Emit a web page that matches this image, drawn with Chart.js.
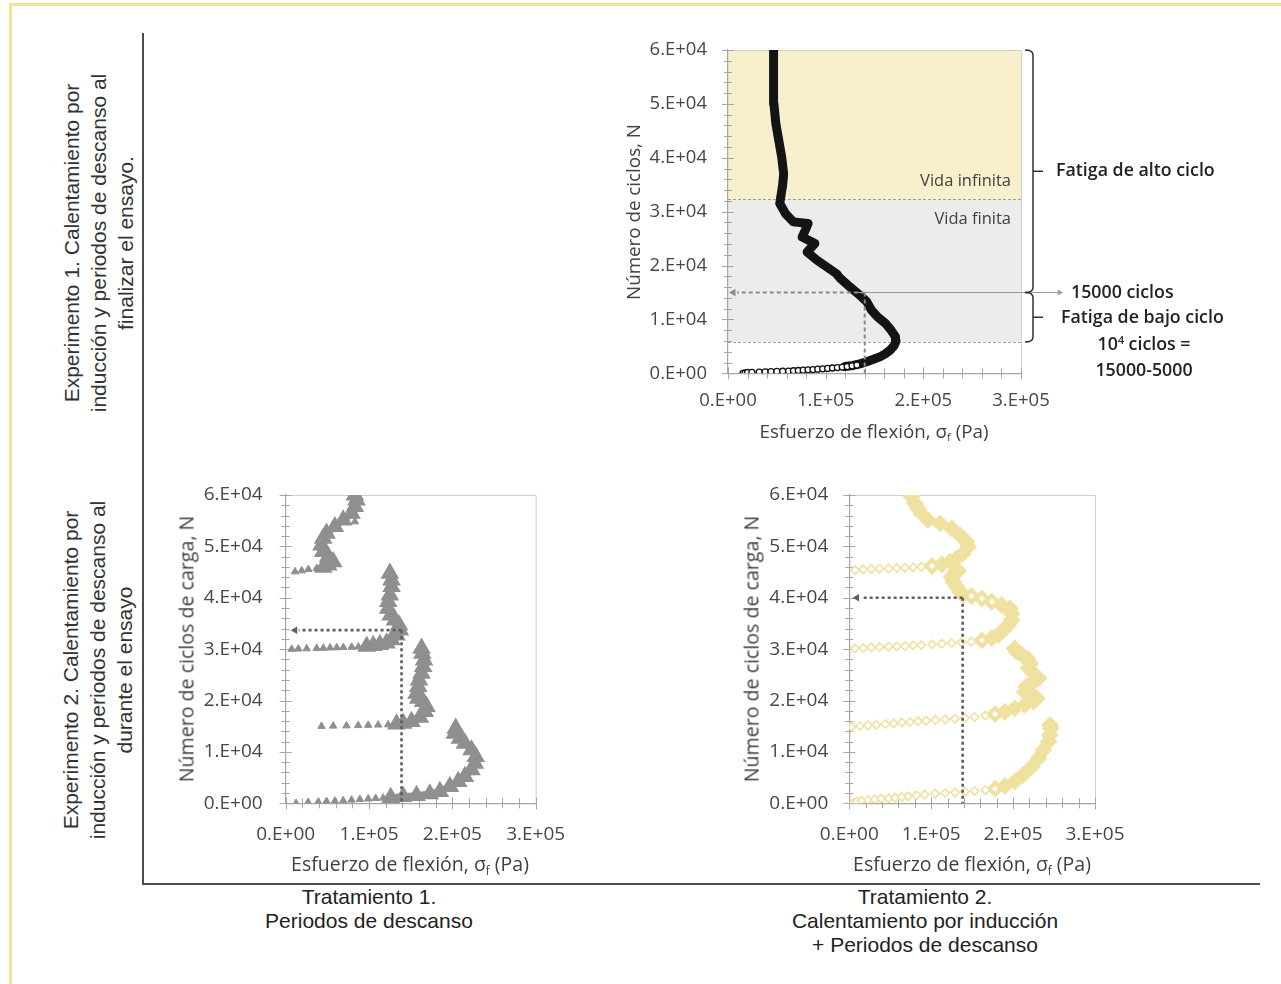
<!DOCTYPE html>
<html lang="es">
<head>
<meta charset="utf-8">
<title>Fatiga - Esfuerzo de flexión vs número de ciclos</title>
<script src="https://cdn.jsdelivr.net/npm/chart.js@4.4.1/dist/chart.umd.min.js"></script>
<style>
  html, body { margin: 0; padding: 0; background: #fff; }
  #page { position: relative; width: 1281px; height: 984px; overflow: hidden; background: #fff; }
  .abs { position: absolute; white-space: nowrap; }
  .rot { position: absolute; white-space: nowrap; transform: translate(-50%, -50%) rotate(-90deg); }
  .ctr { position: absolute; white-space: nowrap; transform: translate(-50%, -50%); }
  .axt { font-family: "Open Sans", sans-serif; color: #404040; }
  .cap { font-family: "Liberation Sans", Arial, sans-serif; color: #222; font-size: 21px; line-height: 24px; text-align: center; }
  .exp { font-family: "Liberation Sans", Arial, sans-serif; color: #333; font-size: 21px; line-height: 27px; text-align: center; }
  .ann { font-family: "Open Sans", sans-serif; color: #222; font-weight: 600; font-size: 17.8px; }
  canvas { position: absolute; }
  sub { font-size: 0.6em; vertical-align: -0.35em; }
  sup { font-size: 0.6em; vertical-align: 0.6em; line-height: 0; }
</style>
</head>
<body>
<div id="page">
  <!-- page frame -->
  <div class="abs" style="left:9px;top:3px;width:1272px;height:3px;background:#f4e295;"></div>
  <div class="abs" style="left:9px;top:3px;width:3px;height:981px;background:#f4e295;"></div>
  <div class="abs" style="left:142px;top:33px;width:1.5px;height:852px;background:#4d4d4d;"></div>
  <div class="abs" style="left:142px;top:883px;width:1118px;height:1.5px;background:#4d4d4d;"></div>

  <!-- row labels -->
  <div class="rot exp" style="left:98px;top:243px;">Experimento 1. Calentamiento por<br>inducción y periodos de descanso al<br>finalizar el ensayo.</div>
  <div class="rot exp" style="left:97px;top:670px;">Experimento 2. Calentamiento por<br>inducción y periodos de descanso al<br>durante el ensayo</div>

  <!-- column captions -->
  <div class="abs cap" style="left:219px;width:300px;top:885px;">Tratamiento 1.<br>Periodos de descanso</div>
  <div class="abs cap" style="left:775px;width:300px;top:885px;">Tratamiento 2.<br>Calentamiento por inducción<br>+ Periodos de descanso</div>

  <canvas id="c1" width="640" height="430" style="left:620px;top:30px;"></canvas>
  <canvas id="c2" width="390" height="385" style="left:186px;top:470px;"></canvas>
  <canvas id="c3" width="390" height="385" style="left:749px;top:470px;"></canvas>

  <!-- axis titles -->
  <div class="rot axt" style="left:633px;top:212px;font-size:18.8px;">Número de ciclos, N</div>
  <div class="ctr axt" style="left:874px;top:431px;font-size:18.8px;">Esfuerzo de flexión, σ<sub>f</sub> (Pa)</div>
  <div class="rot axt" style="left:186px;top:649px;font-size:19.6px;">Número de ciclos de carga, N</div>
  <div class="ctr axt" style="left:410px;top:864px;font-size:19.5px;">Esfuerzo de flexión, σ<sub>f</sub> (Pa)</div>
  <div class="rot axt" style="left:751px;top:649px;font-size:19.6px;">Número de ciclos de carga, N</div>
  <div class="ctr axt" style="left:972px;top:864px;font-size:19.5px;">Esfuerzo de flexión, σ<sub>f</sub> (Pa)</div>

  <!-- top chart annotations -->
  <div class="abs axt" style="right:270px;top:168px;font-size:16.5px;">Vida infinita</div>
  <div class="abs axt" style="right:270px;top:206px;font-size:16.5px;">Vida finita</div>
  <div class="abs ann" style="left:1056px;top:157px;">Fatiga de alto ciclo</div>
  <div class="abs ann" style="left:1071px;top:279px;">15000 ciclos</div>
  <div class="abs ann" style="left:1061px;top:304px;">Fatiga de bajo ciclo</div>
  <div class="ctr ann" style="left:1144px;top:343px;">10<sup>4</sup> ciclos =</div>
  <div class="ctr ann" style="left:1144px;top:369px;">15000-5000</div>
</div>

<script>
// ---------------- tick labels ----------------
const X_TICK_LABELS = ['0.E+00', '1.E+05', '2.E+05', '3.E+05'];
const Y_TICK_LABELS = ['0.E+00', '1.E+04', '2.E+04', '3.E+04', '4.E+04', '5.E+04', '6.E+04'];

// ---------------- Experimento 1 (black circles) : [esfuerzo Pa, ciclos] ----------------
const exp1Sparse = [[15300,0],[17500,60],[20000,120],[24500,180],[32000,220],[38000,260],[44000,300],[50000,340],[56000,380],[62000,420],
  [67000,470],[72000,520],[77000,580],[82000,640],[87000,700],[92000,760],[97000,830],[102000,900],[107000,980],[112000,1060],
  [117000,1150],[122000,1250],[127000,1380],[132000,1520]];
const exp1Dense = [[120000,1250],[128000,1450],[135000,1750],[142000,2150],[149000,2600],[156000,3100],[161000,3600],[166000,4300],
  [170000,5100],[172000,6000],[171500,6800],[167000,8000],[161000,9300],[153000,10500],[147000,11700],[142000,13300],[135000,14500],[125000,16000],[115000,17600],
  [111000,18500],[101000,19750],[91000,21000],[81000,22500],[89000,24100],[76000,25300],[79000,26500],[82000,27800],[67000,28100],[59000,29600],
  [53000,31500],[54000,32700],[56000,35000],[57000,37000],[55000,40100],[52000,43200],[49000,46300],[47000,50000],[47000,54300],[46500,57500],[46500,60000]];
// Límites de zonas y líneas de referencia (Experimento 1)
const EXP1_INFINITE_FROM = 32300;   // vida infinita (arriba)
const EXP1_FINITE_FROM = 5800;      // vida finita (desde)
const EXP1_REF = [140000, 15000];   // 15000 ciclos

// ---------------- Tratamiento 1 (gray triangles) ----------------
const t1Sparse = [[12400,0],[27000,200],[39000,260],[49000,390],[59000,450],[69000,520],[79000,650],[89000,780],[99000,880],[108000,950],[117000,1030],[126000,1100],
  [43000,15000],[57000,15050],[73000,15100],[87000,15150],[99000,15200],[111000,15250],[123000,15300],[133000,15400],
  [7200,30000],[15200,30050],[25200,30100],[37200,30150],[45200,30200],[53200,30250],[61200,30300],[69200,30350],[79200,30400],[87200,30450],[97200,30550],
  [11200,45070],[19200,45270],[27200,45530],[37200,45720],[45200,45910],[83000,54800]];
const t1Seg1 = [[126000,1100],[141000,1300],[157000,1490],[173000,1820],[185000,2270],[197000,3240],[207000,4220],[215000,5190],[223000,6490],[227000,7780],[228000,9080],[223000,10380],[215000,11670],[209000,12650],[203000,13620],[204000,14590]];
const t1Seg2 = [[133000,15400],[141000,15560],[151000,15890],[161000,16730],[167000,17830],[169000,18810],[165000,19780],[159000,20430],[157000,21400],[159000,22700],[160000,23990],[163000,25290],[165000,26590],[166000,27890],[164000,29180],[163000,30150]];
const t1Seg3 = [[97200,30550],[105000,30700],[113000,30900],[121000,31200],[127000,31800],[133000,32750],[137000,33700],[136000,34700],[131000,35670],[126000,36640],[123000,37940],[123000,39230],[125000,40530],[127000,42150],[127000,43450],[125000,44750]];
const t1Seg4 = [[45200,45910],[51000,46370],[57000,47000],[51000,48000],[45000,49000],[43000,50260],[45000,51560],[49000,52530],[59000,53830],[69000,55120],[79000,56420],[83000,57720],[85000,59010],[83000,60000]];
const T1_REF = [139000, 33700];

// ---------------- Tratamiento 2 (yellow diamonds) ----------------
const t2Sparse = [[4900,0],[9000,320],[15000,520],[23000,650],[31000,780],[39000,910],[48000,970],[56000,1100],[64000,1230],[72000,1360],[82000,1560],[92000,1690],[105000,1880],[117000,2010],[129000,2140],[141000,2270],[153000,2400],[166000,2590],[178000,2850],
  [2800,14920],[13000,15050],[23000,15180],[33000,15300],[44000,15430],[54000,15560],[64000,15690],[74000,15820],[84000,15950],[94000,16080],[105000,16210],[117000,16340],[129000,16470],[141000,16600],[153000,16800],[166000,17060],[178000,17380],
  [6900,30150],[17000,30220],[27000,30350],[37000,30410],[48000,30480],[58000,30540],[68000,30610],[78000,30740],[88000,30800],[101000,30930],[113000,31060],[125000,31190],[137000,31320],[149000,31450],[162000,31710],
  [6900,45390],[17000,45530],[27000,45590],[37000,45650],[48000,45720],[58000,45780],[68000,45850],[78000,45910],[88000,46040],[101000,46170],
  [149000,40340],[162000,39880],[174000,39230]];
const t2Seg1 = [[178000,2850],[190000,3370],[202000,4220],[212000,5510],[223000,7130],[231000,8750],[237000,10380],[243000,12000],[245000,13290],[246000,14590],[245000,15240]];
const t2Seg2 = [[178000,17380],[190000,17830],[202000,18480],[214000,19130],[225000,19780],[229000,20430],[223000,21080],[214000,21720],[216000,22700],[225000,23670],[231000,24320],[225000,25290],[219000,26260],[221000,27240],[217000,28210],[211000,28860],[204000,29510],[202000,30150]];
const t2Seg3 = [[162000,31710],[174000,32170],[182000,32750],[188000,33720],[194000,34700],[198000,35670],[198000,36960],[196000,37940],[186000,38590],[174000,39230],[162000,39880],[149000,40340],[139000,40530],[135000,41180],[131000,42150],[127000,43130],[125000,44100],[129000,44880],[133000,45260]];
const t2Seg4 = [[101000,46170],[113000,46500],[123000,47020],[131000,47670],[139000,48640],[145000,49940],[143000,50910],[135000,52200],[125000,53500],[111000,54470],[96000,55120],[88000,56420],[84000,57390],[80000,58370],[76000,59660]];
const T2_REF = [138400, 40000];

// ---------------- helpers ----------------
const pts = arr => arr.map(p => ({ x: p[0], y: p[1] }));

function arrowHead(ctx, x, y, dir, size, color) {
  ctx.save();
  ctx.fillStyle = color;
  ctx.beginPath();
  ctx.moveTo(x, y);
  ctx.lineTo(x - dir * size * 1.3, y - size * 0.75);
  ctx.lineTo(x - dir * size * 1.3, y + size * 0.75);
  ctx.closePath();
  ctx.fill();
  ctx.restore();
}

const decorPlugin = {
  id: 'decor',
  beforeDraw(chart, args, o) {
    const { ctx, chartArea: a, scales: { x, y } } = chart;
    ctx.save();
    (o.bands || []).forEach(b => {
      const p0 = y.getPixelForValue(b.from), p1 = y.getPixelForValue(b.to);
      ctx.fillStyle = b.color;
      ctx.fillRect(a.left, p1, a.right - a.left, p0 - p1);
    });
    ctx.strokeStyle = '#d0d0d0';
    ctx.lineWidth = 1;
    ctx.beginPath();
    ctx.moveTo(a.left, a.top + 0.5);
    ctx.lineTo(a.right + 0.5, a.top + 0.5);
    ctx.lineTo(a.right + 0.5, a.bottom);
    ctx.stroke();
    (o.bands || []).forEach(b => {
      if (!b.edge) return;
      const p = Math.round(y.getPixelForValue(b.from)) + 0.5;
      ctx.strokeStyle = b.edge;
      ctx.setLineDash([3, 2]);
      ctx.beginPath();
      ctx.moveTo(a.left, p);
      ctx.lineTo(a.right, p);
      ctx.stroke();
    });
    ctx.restore();
  },
  beforeDatasetsDraw(chart) {
    const { ctx, chartArea: a, scales: { x, y } } = chart;
    ctx.save();
    ctx.strokeStyle = '#a6a6a6';
    ctx.lineWidth = 1;
    ctx.beginPath();
    for (let v = y.min; v <= y.max + 1; v += 2000) {
      const p = Math.round(y.getPixelForValue(v)) + 0.5;
      const L = (v % 10000 === 0) ? 6 : 4;
      ctx.moveTo(a.left - L, p); ctx.lineTo(a.left + L, p);
    }
    for (let v = x.min; v <= x.max + 1; v += 20000) {
      const p = Math.round(x.getPixelForValue(v)) + 0.5;
      const L = (v % 100000 === 0) ? 6 : 5;
      ctx.moveTo(p, a.bottom - L); ctx.lineTo(p, a.bottom + L);
    }
    ctx.stroke();
    ctx.restore();
  },
  afterDatasetsDraw(chart, args, o) {
    const { ctx, chartArea: a, scales: { x, y } } = chart;
    if (!o.ref) return;
    const r = o.ref;
    const px = x.getPixelForValue(r.x), py = y.getPixelForValue(r.y);
    const leftEnd = x.getPixelForValue(r.leftTo);
    ctx.save();
    ctx.strokeStyle = r.color;
    ctx.lineWidth = r.width;
    ctx.setLineDash(r.dash);
    ctx.beginPath();
    ctx.moveTo(px, py); ctx.lineTo(leftEnd + 8, py);
    ctx.moveTo(px, py); ctx.lineTo(px, y.getPixelForValue(0));
    ctx.stroke();
    ctx.setLineDash([]);
    arrowHead(ctx, leftEnd, py, -1, 5, r.color);
    if (o.rightArrow) {
      const xr = a.right + o.rightArrow;
      ctx.strokeStyle = '#9a9a9a';
      ctx.lineWidth = 1.2;
      ctx.beginPath();
      ctx.moveTo(px - 8, Math.round(py) + 0.5); ctx.lineTo(xr - 5, Math.round(py) + 0.5);
      ctx.stroke();
      arrowHead(ctx, xr, Math.round(py) + 0.5, 1, 4, '#9a9a9a');
    }
    ctx.restore();
  },
  afterDraw(chart, args, o) {
    if (!o.braces) return;
    const { ctx, chartArea: a, scales: { y } } = chart;
    ctx.save();
    ctx.strokeStyle = '#333';
    ctx.lineWidth = 1.5;
    o.braces.forEach(b => {
      const y0 = y.getPixelForValue(b.from), y1 = y.getPixelForValue(b.to);
      const xm = a.right + 12, xl = a.right + 4, xt = a.right + 22;
      const ym = (y0 + y1) / 2;
      ctx.beginPath();
      ctx.moveTo(xl, y1);
      ctx.quadraticCurveTo(xm, y1, xm, y1 + 5);
      ctx.lineTo(xm, y0 - 5);
      ctx.quadraticCurveTo(xm, y0, xl, y0);
      ctx.moveTo(xm, ym);
      ctx.lineTo(xt, ym);
      ctx.stroke();
    });
    ctx.restore();
  }
};

// gap between axis and labels is given as an invisible tick mark, so it does not inflate the layout padding
function scalesCfg(yWidth, xHeight, fontSize, yGap, xGap) {
  const font = { family: 'Open Sans', size: fontSize };
  const hiddenGrid = gap => ({ display: true, drawOnChartArea: false, drawTicks: true, tickLength: gap, color: 'rgba(0,0,0,0)' });
  return {
    x: {
      type: 'linear', min: 0, max: 300000,
      ticks: { stepSize: 100000, padding: 0, color: '#474747', font, maxRotation: 0,
               callback: v => X_TICK_LABELS[Math.round(v / 100000)] },
      grid: hiddenGrid(xGap),
      border: { display: true, color: '#a6a6a6', width: 1.2 },
      afterFit: s => { s.height = xHeight; }
    },
    y: {
      type: 'linear', min: 0, max: 60000,
      ticks: { stepSize: 10000, padding: 0, color: '#474747', font,
               callback: v => Y_TICK_LABELS[Math.round(v / 10000)] },
      grid: hiddenGrid(yGap),
      border: { display: true, color: '#a6a6a6', width: 1.2 },
      afterFit: s => { s.width = yWidth; }
    }
  };
}

function denseSet(data, color, style, lw, radius) {
  return { data: pts(data), showLine: true, borderColor: color, backgroundColor: color, borderWidth: lw,
           pointStyle: style, pointRadius: radius, pointBackgroundColor: color, pointBorderColor: color,
           borderCapStyle: 'round', borderJoinStyle: 'round', tension: 0 };
}

// place the plot area at the wanted position inside its canvas (adjusts layout padding)
function fitArea(chart, t) {
  for (let i = 0; i < 6; i++) {
    const a = chart.chartArea;
    const p = chart.config.options.layout.padding;
    const d = { top: t.top - a.top, left: t.left - a.left, right: a.right - t.right, bottom: a.bottom - t.bottom };
    if (Math.abs(d.top) + Math.abs(d.left) + Math.abs(d.right) + Math.abs(d.bottom) < 0.3) break;
    chart.config.options.layout.padding = {
      top: Math.max(0, p.top + d.top), left: Math.max(0, p.left + d.left),
      right: Math.max(0, p.right + d.right), bottom: Math.max(0, p.bottom + d.bottom)
    };
    chart.update('none');
  }
}

const common = {
  responsive: false, animation: false, events: [],
  plugins: { legend: { display: false }, tooltip: { enabled: false } }
};

// ---------- Experimento 1 ----------
const chart1 = new Chart(document.getElementById('c1'), {
  type: 'scatter',
  data: { datasets: [
    { data: pts(exp1Sparse), pointStyle: 'circle', pointRadius: 3, borderWidth: 1.3,
      borderColor: '#111', backgroundColor: '#fff' },
    denseSet(exp1Dense, '#141414', 'circle', 9, 0)
  ] },
  options: Object.assign({}, common, {
    layout: { padding: { top: 20, right: 239, left: 8, bottom: 30 } },
    scales: scalesCfg(100, 55, 18.5, 21, 16),
    plugins: Object.assign({}, common.plugins, {
      decor: {
        bands: [
          { from: EXP1_INFINITE_FROM, to: 60000, color: '#f8f0cc', edge: '#a59f84' },
          { from: EXP1_FINITE_FROM, to: EXP1_INFINITE_FROM, color: '#ececec', edge: '#a8a8a8' }
        ],
        ref: { x: EXP1_REF[0], y: EXP1_REF[1], leftTo: 1000, color: '#8a8a8a', width: 2, dash: [4, 3] },
        rightArrow: 42,
        braces: [ { from: EXP1_REF[1], to: 60000 }, { from: EXP1_FINITE_FROM, to: EXP1_REF[1] } ]
      }
    })
  }),
  plugins: [decorPlugin]
});
fitArea(chart1, { left: 108, top: 20, right: 401, bottom: 343.3 });

// ---------- Tratamiento 1 ----------
const T1C = '#8f8f8f';
const chart2 = new Chart(document.getElementById('c2'), {
  type: 'scatter',
  data: { datasets: [
    denseSet(t1Seg1, T1C, 'triangle', 7, 3.8),
    denseSet(t1Seg2, T1C, 'triangle', 7, 3.8),
    denseSet(t1Seg3, T1C, 'triangle', 7, 3.8),
    denseSet(t1Seg4, T1C, 'triangle', 7, 3.8),
    { data: pts(t1Sparse), pointStyle: 'triangle', pointRadius: 4.3, borderWidth: 1,
      borderColor: T1C, backgroundColor: T1C }
  ] },
  options: Object.assign({}, common, {
    layout: { padding: { top: 25, right: 40, left: 8, bottom: 5 } },
    scales: scalesCfg(92, 45, 19, 23, 20),
    plugins: Object.assign({}, common.plugins, {
      decor: { ref: { x: T1_REF[0], y: T1_REF[1], leftTo: 6000, color: '#5e5e5e', width: 2.6, dash: [3, 3] } }
    })
  }),
  plugins: [decorPlugin]
});
fitArea(chart2, { left: 99.7, top: 25, right: 349.7, bottom: 333.3 });

// ---------- Tratamiento 2 ----------
const T2C = '#efe1a0';
const chart3 = new Chart(document.getElementById('c3'), {
  type: 'scatter',
  data: { datasets: [
    { data: pts(t2Sparse), pointStyle: 'rectRot', pointRadius: 4.2, borderWidth: 1.6,
      borderColor: T2C, backgroundColor: '#fff' },
    denseSet(t2Seg1, T2C, 'rectRot', 7, 4),
    denseSet(t2Seg2, T2C, 'rectRot', 7, 4),
    denseSet(t2Seg3, T2C, 'rectRot', 7, 4),
    denseSet(t2Seg4, T2C, 'rectRot', 7, 4)
  ] },
  options: Object.assign({}, common, {
    layout: { padding: { top: 25, right: 40, left: 8, bottom: 5 } },
    scales: scalesCfg(92, 45, 19, 21, 20),
    plugins: Object.assign({}, common.plugins, {
      decor: { ref: { x: T2_REF[0], y: T2_REF[1], leftTo: 4000, color: '#5e5e5e', width: 2.6, dash: [3, 3] } }
    })
  }),
  plugins: [decorPlugin]
});
fitArea(chart3, { left: 100.3, top: 25, right: 346, bottom: 333.3 });
</script>
</body>
</html>
